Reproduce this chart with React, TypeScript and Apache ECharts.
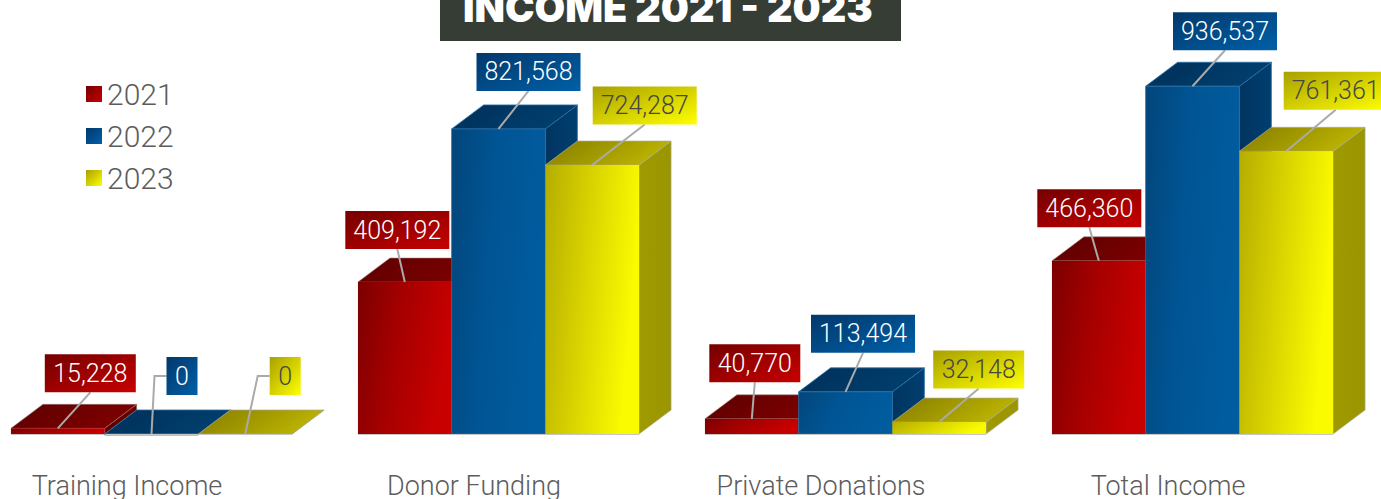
import React, { useEffect, useRef } from "react";
import * as echarts from "echarts";

const categories = ["Training Income", "Donor Funding", "Private Donations", "Total Income"];
const years = ["2021", "2022", "2023"];
const values2021 = [15228, 409192, 40770, 466360];
const values2022 = [0, 821568, 113494, 936537];
const values2023 = [0, 724287, 32148, 761361];
const titleText = "INCOME 2021 - 2023";

// Offsets of each value tag from the front-top centre of its bar (layout only).
const tagOffsets = [
  [[32.5, -55], [30.5, -58], [40, -58]],
  [[-7.5, -52], [30, -57], [52.5, -59.5]],
  [[3, -55.5], [17.5, -58], [39.5, -52.5]],
  [[-9.5, -52.5], [32.5, -55], [49.5, -60.5]],
];

const W = 1381;
const H = 499;
const FONT = "Roboto";
const DEPTH_X = 32;
const DEPTH_Y = 24;
const BAR_PX = 93.7;
const SHIFT_X = 24.5;
const lg = (x2: number, y2: number, a: string, b: string) =>
  new echarts.graphic.LinearGradient(0, 0, x2, y2, [
    { offset: 0, color: a },
    { offset: 1, color: b },
  ]);
const lg3 = (x2: number, y2: number, a: string, m: string, b: string) =>
  new echarts.graphic.LinearGradient(0, 0, x2, y2, [
    { offset: 0, color: a },
    { offset: 0.45, color: m },
    { offset: 1, color: b },
  ]);

const palettes = [
  {
    front: ["#7c0000", "#a40000", "#c80000"], top: ["#5c0000", "#7e0000"], side: ["#5c0000", "#700000"],
    tag: ["#750000", "#c80000"], tagText: "#ffffff",
    edge: "rgba(150,120,120,0.55)", frontEdge: "rgba(0,0,0,0)",
  },
  {
    front: ["#03457a", "#005493", "#005c9f"], top: ["#012f58", "#003f6e"], side: ["#01345f", "#003f70"],
    tag: ["#02386a", "#0060a8"], tagText: "#ffffff",
    edge: "rgba(40,110,165,0.8)", frontEdge: "rgba(40,110,165,0.8)",
  },
  {
    front: ["#b5ad00", "#d6d000", "#fbfb00"], top: ["#857c00", "#bcb400"], side: ["#a09a00", "#9a9600"],
    tag: ["#a8a000", "#ffff00"], tagText: "#474747",
    edge: "rgba(170,170,150,0.7)", frontEdge: "rgba(0,0,0,0)",
  },
];

const tagWidth = (s: string) => (s.length >= 7 ? 104 : s.length === 6 ? 91 : 31);

function makeRenderItem(seriesIdx: number) {
  const pal = palettes[seriesIdx];
  return (_params: any, api: any) => {
    const cat = api.value(0) as number;
    const val = api.value(1) as number;
    const band = api.size([1, 0])[0] as number;
    const base = api.coord([cat, 0]);
    const topPt = api.coord([cat, val]);
    const barW = band * (BAR_PX / 347);
    const cx = base[0] + SHIFT_X + (seriesIdx - 1) * barW;
    const x0 = cx - barW / 2;
    const x1 = cx + barW / 2;
    const yB = base[1];
    const yT = topPt[1];
    const edge = { stroke: pal.edge, lineWidth: 1 };
    const label = val.toLocaleString("en-US");
    const [ox, oy] = tagOffsets[cat][seriesIdx];
    const tagCx = cx + ox;
    const tagCy = yT + oy;
    const tagW = tagWidth(label);
    const tagH = 38;
    const leader =
      val === 0
        ? [[tagCx - tagW / 2, tagCy], [tagCx - tagW / 2 - 12, tagCy], [cx, yT]]
        : [[tagCx, tagCy + tagH / 2], [cx, yT]];
    return {
      type: "group",
      children: [
        {
          type: "polygon",
          shape: { points: [[x1, yT], [x1 + DEPTH_X, yT - DEPTH_Y], [x1 + DEPTH_X, yB - DEPTH_Y], [x1, yB]] },
          style: { fill: lg(1, 0, pal.side[0], pal.side[1]), ...edge },
        },
        {
          type: "polygon",
          shape: { points: [[x0, yT], [x0 + DEPTH_X, yT - DEPTH_Y], [x1 + DEPTH_X, yT - DEPTH_Y], [x1, yT]] },
          style: { fill: lg(1, 0.3, pal.top[0], pal.top[1]), ...edge },
        },
        {
          type: "rect",
          shape: { x: x0, y: yT, width: barW, height: Math.max(yB - yT, 1) },
          style: {
            fill: lg3(1, 0.25, pal.front[0], pal.front[1], pal.front[2]),
            stroke: pal.frontEdge,
            lineWidth: 1,
          },
        },
        {
          type: "line",
          z2: 5,
          shape: { x1: x0, y1: yB + 0.5, x2: x1, y2: yB + 0.5 },
          style: { stroke: "#c6c6c6", lineWidth: 1 },
        },
        {
          type: "polyline",
          z2: 50,
          shape: { points: leader },
          style: { fill: "none", stroke: "#aaaaaa", lineWidth: 2 },
        },
        {
          type: "rect",
          z2: 60,
          shape: { x: tagCx - tagW / 2, y: tagCy - tagH / 2, width: tagW, height: tagH },
          style: { fill: lg(1, 1, pal.tag[0], pal.tag[1]) },
        },
        {
          type: "text",
          z2: 70,
          x: tagCx,
          y: tagCy,
          style: {
            text: label,
            fill: pal.tagText,
            font: `300 25px ${FONT}`,
            align: "center",
            verticalAlign: "middle",
          },
        },
      ],
    };
  };
}

const seriesValues = [values2021, values2022, values2023];

export default function App() {
  const ref = useRef<HTMLDivElement>(null);
  useEffect(() => {
    document.body.style.margin = "0";
    document.body.style.overflow = "hidden";
    const chart = echarts.init(ref.current!, undefined, { renderer: "svg" });
    chart.setOption({
      animation: false,
      backgroundColor: "#ffffff",
      title: {
        text: titleText,
        left: 463,
        top: -12,
        padding: 0,
        textStyle: { color: "#ffffff", fontFamily: "Inter", fontWeight: 900, fontSize: 39.6 },
      },
      graphic: [
        {
          type: "rect",
          z: 0,
          shape: { x: 440, y: 0, width: 461, height: 41 },
          style: { fill: "#363d35" },
        },
      ],
      legend: {
        orient: "vertical",
        left: 81,
        top: 72,
        icon: "rect",
        itemWidth: 16,
        itemHeight: 16,
        itemGap: 8,
        data: years,
        textStyle: { fontFamily: FONT, fontWeight: 300, fontSize: 30, color: "#5c5c5c", lineHeight: 34 },
      },
      grid: { left: -46.5, width: 1388, top: 62.7, height: 371.3, outerBoundsMode: "none" },
      xAxis: {
        type: "category",
        data: categories,
        axisLine: { show: false },
        axisTick: { show: false },
        axisLabel: {
          margin: 38,
          interval: 0,
          fontFamily: FONT,
          fontWeight: 300,
          fontSize: 27,
          color: "#5c5c5c",
        },
      },
      yAxis: { type: "value", min: 0, max: 1000000, show: false },
      series: years.map((name, i) => ({
        type: "custom",
        name,
        clip: false,
        z: 2 + i,
        itemStyle: { color: lg(1, 1, palettes[i].tag[0], palettes[i].tag[1]) },
        renderItem: makeRenderItem(i),
        encode: { x: 0, y: 1 },
        data: seriesValues[i].map((v, c) => [c, v]),
      })),
    });
    return () => chart.dispose();
  }, []);
  return <div ref={ref} style={{ width: W, height: H }} />;
}
